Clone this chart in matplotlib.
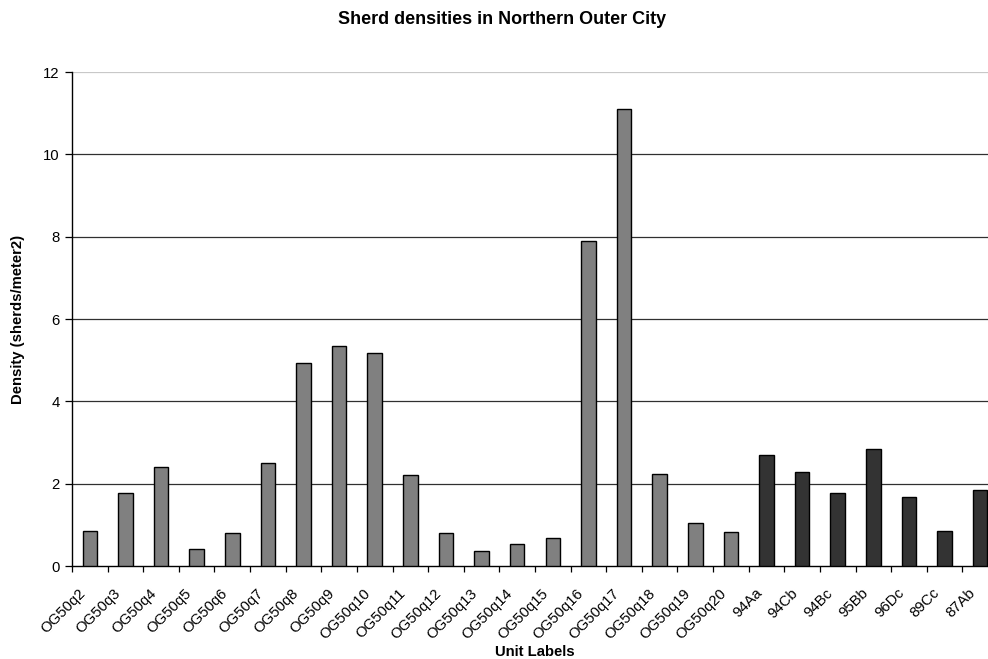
import matplotlib
matplotlib.use("Agg")
import matplotlib.pyplot as plt
import matplotlib.transforms as mtransforms
import numpy as np

plt.rcParams['font.family'] = ['Liberation Sans', 'DejaVu Sans']

units = ["OG50q2", "OG50q3", "OG50q4", "OG50q5", "OG50q6", "OG50q7", "OG50q8",
         "OG50q9", "OG50q10", "OG50q11", "OG50q12", "OG50q13", "OG50q14",
         "OG50q15", "OG50q16", "OG50q17", "OG50q18", "OG50q19", "OG50q20",
         "94Aa", "94Cb", "94Bc", "95Bb", "96Dc", "89Cc", "87Ab"]
density = [0.85, 1.77, 2.41, 0.41, 0.81, 2.50, 4.93, 5.34, 5.17, 2.20, 0.81,
           0.36, 0.53, 0.68, 7.89, 11.09, 2.24, 1.05, 0.82, 2.70, 2.29, 1.78,
           2.84, 1.68, 0.85, 1.84]
# OG50 quadrats in mid grey, excavation units in dark grey
group = ["OG"] * 19 + ["EX"] * 7
group_colors = {"OG": "#808080", "EX": "#333333"}

W, H = 988, 659
fig = plt.figure(figsize=(W / 100, H / 100), dpi=100)
ax = fig.add_axes([72 / W, 1 - 566 / H, 926 / W, 494 / H])

x = np.arange(len(units))
ax.bar(x, density, width=0.41, color=[group_colors[g] for g in group],
       edgecolor="black", linewidth=1.0, zorder=3)

ax.set_xlim(-0.5, len(units) - 0.5)
ax.set_ylim(0, 12)
ax.set_yticks(np.arange(0, 13, 2))
ax.yaxis.grid(True, color="#303030", linewidth=0.9, zorder=0)
ax.set_axisbelow(True)
gl = ax.get_ygridlines()
gl[-1].set_color("#c8c8c8")
gl[0].set_visible(False)

ax.set_xticks(x)
ax.set_xticklabels(units, rotation=45, ha="right", va="center",
                   rotation_mode="anchor", fontsize=10.7)
ax.tick_params(axis="x", which="major", length=0, pad=18)
shift = mtransforms.ScaledTranslation(-7 / 100, 0, fig.dpi_scale_trans)
for lab in ax.get_xticklabels():
    lab.set_transform(lab.get_transform() + shift)
ax.set_xticks(np.arange(-0.5, len(units), 1.0), minor=True)
ax.tick_params(axis="x", which="minor", length=4, width=0.9, direction="out")
ax.tick_params(axis="y", length=5, width=0.9, labelsize=10.7, pad=4)

for side in ("top", "right"):
    ax.spines[side].set_visible(False)
for side in ("left", "bottom"):
    ax.spines[side].set_linewidth(1.0)
    ax.spines[side].set_color("black")

ax.set_ylabel("Density (sherds/meter2)", fontsize=10.7, fontweight="bold",
              va="center")
ax.yaxis.set_label_coords((18 - 72) / 926, 0.5)
ax.set_xlabel("Unit Labels", fontsize=10.7, fontweight="bold", va="center")
ax.xaxis.set_label_coords(0.5, (566 - 652) / 494)

fig.text(502 / W, 1 - 20 / H, "Sherd densities in Northern Outer City",
         ha="center", va="center", fontsize=13, fontweight="bold")

fig.savefig("out.png", dpi=100)
